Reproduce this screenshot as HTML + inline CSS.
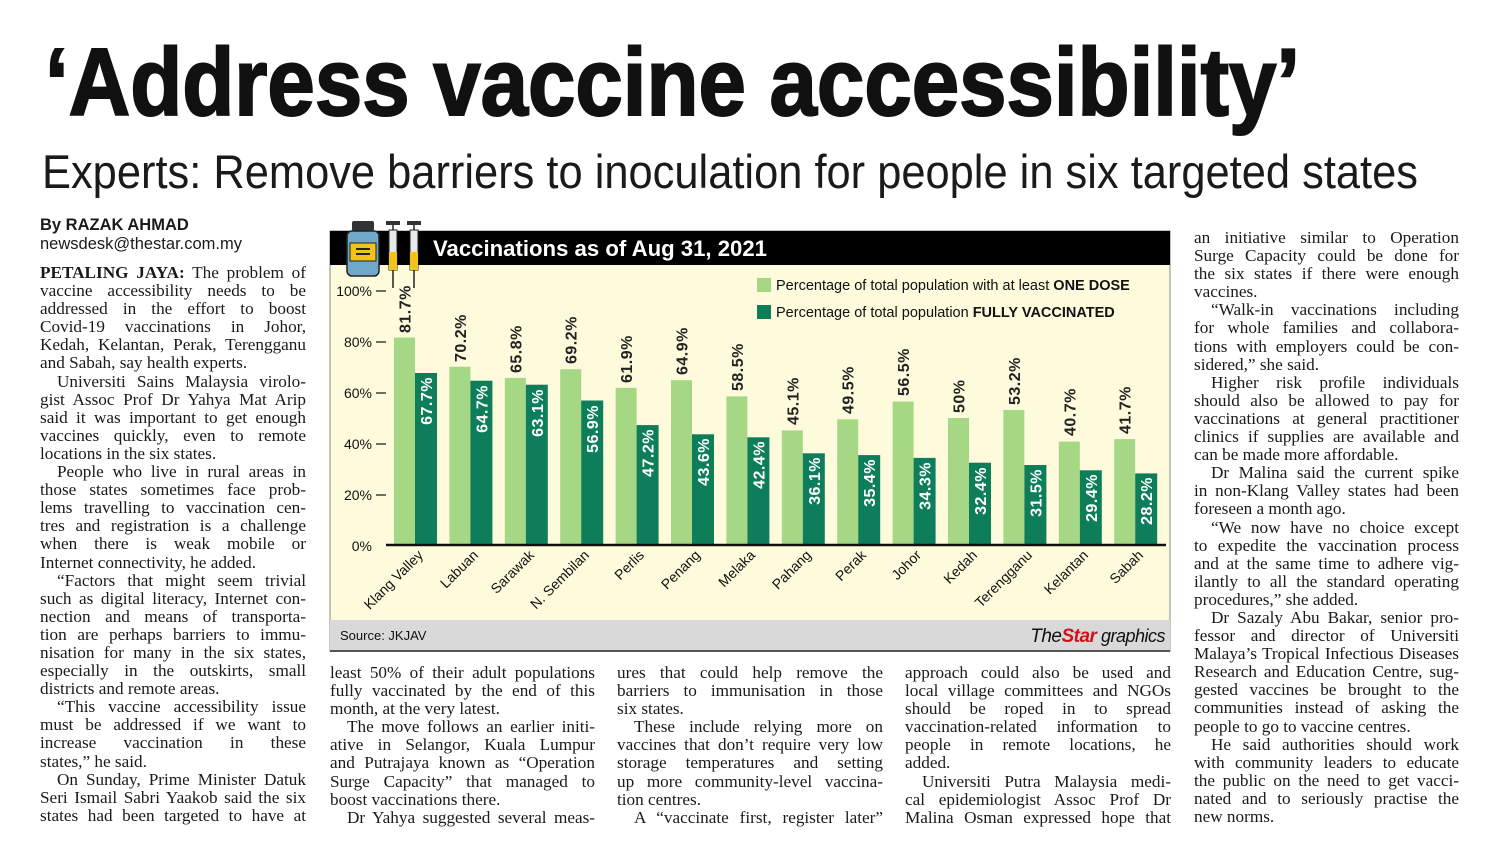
<!DOCTYPE html>
<html><head><meta charset="utf-8">
<style>
body{margin:0;width:1500px;height:858px;background:#fff;position:relative;overflow:hidden;font-family:"Liberation Serif",serif;color:#1a1a1a}
.col{position:absolute;font-size:17.2px;line-height:18.1px;}
.col div{text-align:justify;text-align-last:justify;white-space:nowrap;}
.col div.e{text-align-last:left}
.col div.i{text-indent:17px}
svg text{font-family:"Liberation Sans",sans-serif}
</style></head><body>
<svg width="1500" height="210" style="position:absolute;left:0;top:0">
<text x="45" y="115" font-size="96" font-weight="bold" textLength="1255" lengthAdjust="spacingAndGlyphs" fill="#111" stroke="#111" stroke-width="2">‘Address vaccine accessibility’</text>
<text x="42" y="188" font-size="47" textLength="1376" lengthAdjust="spacingAndGlyphs" fill="#1a1a1a">Experts: Remove barriers to inoculation for people in six targeted states</text>
</svg>
<div style="position:absolute;left:40px;top:216px;font:bold 16.5px 'Liberation Sans',sans-serif">By RAZAK AHMAD</div>
<div style="position:absolute;left:40px;top:235px;font:16.5px 'Liberation Sans',sans-serif">newsdesk@thestar.com.my</div>
<div class="col" style="left:40px;top:264px;width:266px">
<div><b>PETALING JAYA:</b> The problem of</div><div>vaccine accessibility needs to be</div><div>addressed in the effort to boost</div><div>Covid-19 vaccinations in Johor,</div><div>Kedah, Kelantan, Perak, Terengganu</div><div class="e">and Sabah, say health experts.</div>
<div class="i">Universiti Sains Malaysia virolo-</div><div>gist Assoc Prof Dr Yahya Mat Arip</div><div>said it was important to get enough</div><div>vaccines quickly, even to remote</div><div class="e">locations in the six states.</div>
<div class="i">People who live in rural areas in</div><div>those states sometimes face prob-</div><div>lems travelling to vaccination cen-</div><div>tres and registration is a challenge</div><div>when there is weak mobile or</div><div class="e">Internet connectivity, he added.</div>
<div class="i">“Factors that might seem trivial</div><div>such as digital literacy, Internet con-</div><div>nection and means of transporta-</div><div>tion are perhaps barriers to immu-</div><div>nisation for many in the six states,</div><div>especially in the outskirts, small</div><div class="e">districts and remote areas.</div>
<div class="i">“This vaccine accessibility issue</div><div>must be addressed if we want to</div><div>increase vaccination in these</div><div class="e">states,” he said.</div>
<div class="i">On Sunday, Prime Minister Datuk</div><div>Seri Ismail Sabri Yaakob said the six</div><div>states had been targeted to have at</div>
</div>
<div class="col" style="left:330px;top:664px;width:265px">
<div>least 50% of their adult populations</div><div>fully vaccinated by the end of this</div><div class="e">month, at the very latest.</div>
<div class="i">The move follows an earlier initi-</div><div>ative in Selangor, Kuala Lumpur</div><div>and Putrajaya known as “Operation</div><div>Surge Capacity” that managed to</div><div class="e">boost vaccinations there.</div><div class="i">Dr Yahya suggested several meas-</div>
</div>
<div class="col" style="left:617px;top:664px;width:266px">
<div>ures that could help remove the</div><div>barriers to immunisation in those</div><div class="e">six states.</div>
<div class="i">These include relying more on</div><div>vaccines that don’t require very low</div><div>storage temperatures and setting</div><div>up more community-level vaccina-</div><div class="e">tion centres.</div><div class="i">A “vaccinate first, register later”</div>
</div>
<div class="col" style="left:905px;top:664px;width:266px">
<div>approach could also be used and</div><div>local village committees and NGOs</div><div>should be roped in to spread</div><div>vaccination-related information to</div><div>people in remote locations, he</div><div class="e">added.</div>
<div class="i">Universiti Putra Malaysia medi-</div><div>cal epidemiologist Assoc Prof Dr</div><div>Malina Osman expressed hope that</div>
</div>
<div class="col" style="left:1194px;top:229px;width:265px">
<div>an initiative similar to Operation</div><div>Surge Capacity could be done for</div><div>the six states if there were enough</div><div class="e">vaccines.</div>
<div class="i">“Walk-in vaccinations including</div><div>for whole families and collabora-</div><div>tions with employers could be con-</div><div class="e">sidered,” she said.</div>
<div class="i">Higher risk profile individuals</div><div>should also be allowed to pay for</div><div>vaccinations at general practitioner</div><div>clinics if supplies are available and</div><div class="e">can be made more affordable.</div>
<div class="i">Dr Malina said the current spike</div><div>in non-Klang Valley states had been</div><div class="e">foreseen a month ago.</div>
<div class="i">“We now have no choice except</div><div>to expedite the vaccination process</div><div>and at the same time to adhere vig-</div><div>ilantly to all the standard operating</div><div class="e">procedures,” she added.</div>
<div class="i">Dr Sazaly Abu Bakar, senior pro-</div><div>fessor and director of Universiti</div><div>Malaya’s Tropical Infectious Diseases</div><div>Research and Education Centre, sug-</div><div>gested vaccines be brought to the</div><div>communities instead of asking the</div><div class="e">people to go to vaccine centres.</div>
<div class="i">He said authorities should work</div><div>with community leaders to educate</div><div>the public on the need to get vacci-</div><div>nated and to seriously practise the</div><div class="e">new norms.</div>
</div>
<svg width="1500" height="858" style="position:absolute;left:0;top:0">
<rect x="330" y="231" width="840" height="420" fill="#fdfbdc" stroke="#888" stroke-width="1"/>
<rect x="330" y="231" width="840" height="34" fill="#000"/>
<rect x="330" y="620" width="840" height="31" fill="#d9d9d9"/>
<line x1="330" y1="651" x2="1170" y2="651" stroke="#555" stroke-width="2"/>
<text x="433" y="256" font-size="22" font-weight="bold" fill="#fff" textLength="334" lengthAdjust="spacingAndGlyphs">Vaccinations as of Aug 31, 2021</text>
<rect x="352" y="221" width="22" height="10" rx="2" fill="#333"/>
<rect x="347" y="231" width="32" height="45" rx="5" fill="#6fa8c8" stroke="#222" stroke-width="1.5"/>
<rect x="350" y="243" width="26" height="18" fill="#f2c417" stroke="#222"/>
<rect x="356" y="248" width="14" height="2" fill="#222"/><rect x="356" y="253" width="14" height="2" fill="#222"/>
<g stroke="#222" stroke-width="1.5"><line x1="393" y1="222" x2="393" y2="288"/><line x1="414" y1="222" x2="414" y2="288"/></g>
<rect x="386" y="221" width="14" height="4" fill="#333"/><rect x="407" y="221" width="14" height="4" fill="#333"/>
<rect x="389" y="230" width="8" height="40" fill="#e8e8e8" stroke="#222"/><rect x="410" y="230" width="8" height="40" fill="#e8e8e8" stroke="#222"/>
<rect x="389" y="252" width="8" height="18" fill="#f2c417"/><rect x="410" y="252" width="8" height="18" fill="#f2c417"/>
<rect x="757" y="278" width="14" height="14" fill="#a6d785"/>
<rect x="757" y="305" width="14" height="14" fill="#0e7e5a"/>
<text x="776" y="290" font-size="14.5" fill="#111">Percentage of total population with at least <tspan font-weight="bold">ONE DOSE</tspan></text>
<text x="776" y="317" font-size="14.5" fill="#111">Percentage of total population <tspan font-weight="bold">FULLY VACCINATED</tspan></text>
<g font-size="14" fill="#111" text-anchor="end">
<text x="372" y="296">100%</text><text x="372" y="347">80%</text><text x="372" y="398">60%</text><text x="372" y="449">40%</text><text x="372" y="500">20%</text><text x="372" y="551">0%</text>
</g>
<g stroke="#111" stroke-width="1.2">
<line x1="376" y1="291" x2="386" y2="291"/><line x1="376" y1="342" x2="386" y2="342"/><line x1="376" y1="393" x2="386" y2="393"/><line x1="376" y1="444" x2="386" y2="444"/><line x1="376" y1="495" x2="386" y2="495"/>
</g>
<g fill="#a6d785">
<rect x="394" y="337.5" width="21" height="207.5"/><rect x="449.4" y="366.7" width="21" height="178.3"/><rect x="504.8" y="377.9" width="21" height="167.1"/><rect x="560.2" y="369.2" width="21" height="175.8"/><rect x="615.6" y="387.8" width="21" height="157.2"/><rect x="671" y="380.2" width="21" height="164.8"/><rect x="726.4" y="396.4" width="21" height="148.6"/><rect x="781.8" y="430.4" width="21" height="114.6"/><rect x="837.2" y="419.3" width="21" height="125.7"/><rect x="892.6" y="401.5" width="21" height="143.5"/><rect x="948" y="418" width="21" height="127"/><rect x="1003.4" y="409.9" width="21" height="135.1"/><rect x="1058.8" y="441.6" width="21" height="103.4"/><rect x="1114.2" y="439.1" width="21" height="105.9"/>
</g>
<g fill="#0e7e5a">
<rect x="415" y="373" width="22" height="172"/><rect x="470.4" y="380.7" width="22" height="164.3"/><rect x="525.8" y="384.7" width="22" height="160.3"/><rect x="581.2" y="400.5" width="22" height="144.5"/><rect x="636.6" y="425.1" width="22" height="119.9"/><rect x="692" y="434.3" width="22" height="110.7"/><rect x="747.4" y="437.3" width="22" height="107.7"/><rect x="802.8" y="453.3" width="22" height="91.7"/><rect x="858.2" y="455.1" width="22" height="89.9"/><rect x="913.6" y="457.9" width="22" height="87.1"/><rect x="969" y="462.7" width="22" height="82.3"/><rect x="1024.4" y="465" width="22" height="80"/><rect x="1079.8" y="470.3" width="22" height="74.7"/><rect x="1135.2" y="473.4" width="22" height="71.6"/>
</g>
<line x1="386" y1="545" x2="1166" y2="545" stroke="#111" stroke-width="2.5"/>
<g font-size="16" font-weight="bold" fill="#222" text-anchor="start" letter-spacing="0.5">
<text transform="translate(410.5,333) rotate(-90)">81.7%</text>
<text transform="translate(465.9,362) rotate(-90)">70.2%</text>
<text transform="translate(521.3,373) rotate(-90)">65.8%</text>
<text transform="translate(576.7,364) rotate(-90)">69.2%</text>
<text transform="translate(632.1,383) rotate(-90)">61.9%</text>
<text transform="translate(687.5,375) rotate(-90)">64.9%</text>
<text transform="translate(742.9,391) rotate(-90)">58.5%</text>
<text transform="translate(798.3,425) rotate(-90)">45.1%</text>
<text transform="translate(853.7,414) rotate(-90)">49.5%</text>
<text transform="translate(909.1,396) rotate(-90)">56.5%</text>
<text transform="translate(964.5,413) rotate(-90)">50%</text>
<text transform="translate(1019.9,405) rotate(-90)">53.2%</text>
<text transform="translate(1075.3,436) rotate(-90)">40.7%</text>
<text transform="translate(1130.7,434) rotate(-90)">41.7%</text>
</g>
<g font-size="16" font-weight="bold" fill="#fff" text-anchor="end" letter-spacing="0.5">
<text transform="translate(432,377) rotate(-90)">67.7%</text>
<text transform="translate(487.4,385) rotate(-90)">64.7%</text>
<text transform="translate(542.8,389) rotate(-90)">63.1%</text>
<text transform="translate(598.2,405) rotate(-90)">56.9%</text>
<text transform="translate(653.6,429) rotate(-90)">47.2%</text>
<text transform="translate(709,438) rotate(-90)">43.6%</text>
<text transform="translate(764.4,441) rotate(-90)">42.4%</text>
<text transform="translate(819.8,457) rotate(-90)">36.1%</text>
<text transform="translate(875.2,459) rotate(-90)">35.4%</text>
<text transform="translate(930.6,462) rotate(-90)">34.3%</text>
<text transform="translate(986,467) rotate(-90)">32.4%</text>
<text transform="translate(1041.4,469) rotate(-90)">31.5%</text>
<text transform="translate(1096.8,474) rotate(-90)">29.4%</text>
<text transform="translate(1152.2,477) rotate(-90)">28.2%</text>
</g>
<g font-size="14" fill="#111" text-anchor="end">
<text transform="translate(424,556) rotate(-45)">Klang Valley</text>
<text transform="translate(479,556) rotate(-45)">Labuan</text>
<text transform="translate(535,556) rotate(-45)">Sarawak</text>
<text transform="translate(590,556) rotate(-45)">N. Sembilan</text>
<text transform="translate(645,556) rotate(-45)">Perlis</text>
<text transform="translate(701,556) rotate(-45)">Penang</text>
<text transform="translate(756,556) rotate(-45)">Melaka</text>
<text transform="translate(812,556) rotate(-45)">Pahang</text>
<text transform="translate(867,556) rotate(-45)">Perak</text>
<text transform="translate(922,556) rotate(-45)">Johor</text>
<text transform="translate(978,556) rotate(-45)">Kedah</text>
<text transform="translate(1033,556) rotate(-45)">Terengganu</text>
<text transform="translate(1089,556) rotate(-45)">Kelantan</text>
<text transform="translate(1144,556) rotate(-45)">Sabah</text>
</g>
<text x="340" y="640" font-size="13" fill="#111">Source: JKJAV</text>
<text x="1165" y="642" font-size="19" text-anchor="end" font-style="italic" fill="#111" letter-spacing="-0.5">The<tspan fill="#d0121b" font-weight="bold">Star</tspan><tspan font-size="18"> graphics</tspan></text>
</svg>
</body></html>
